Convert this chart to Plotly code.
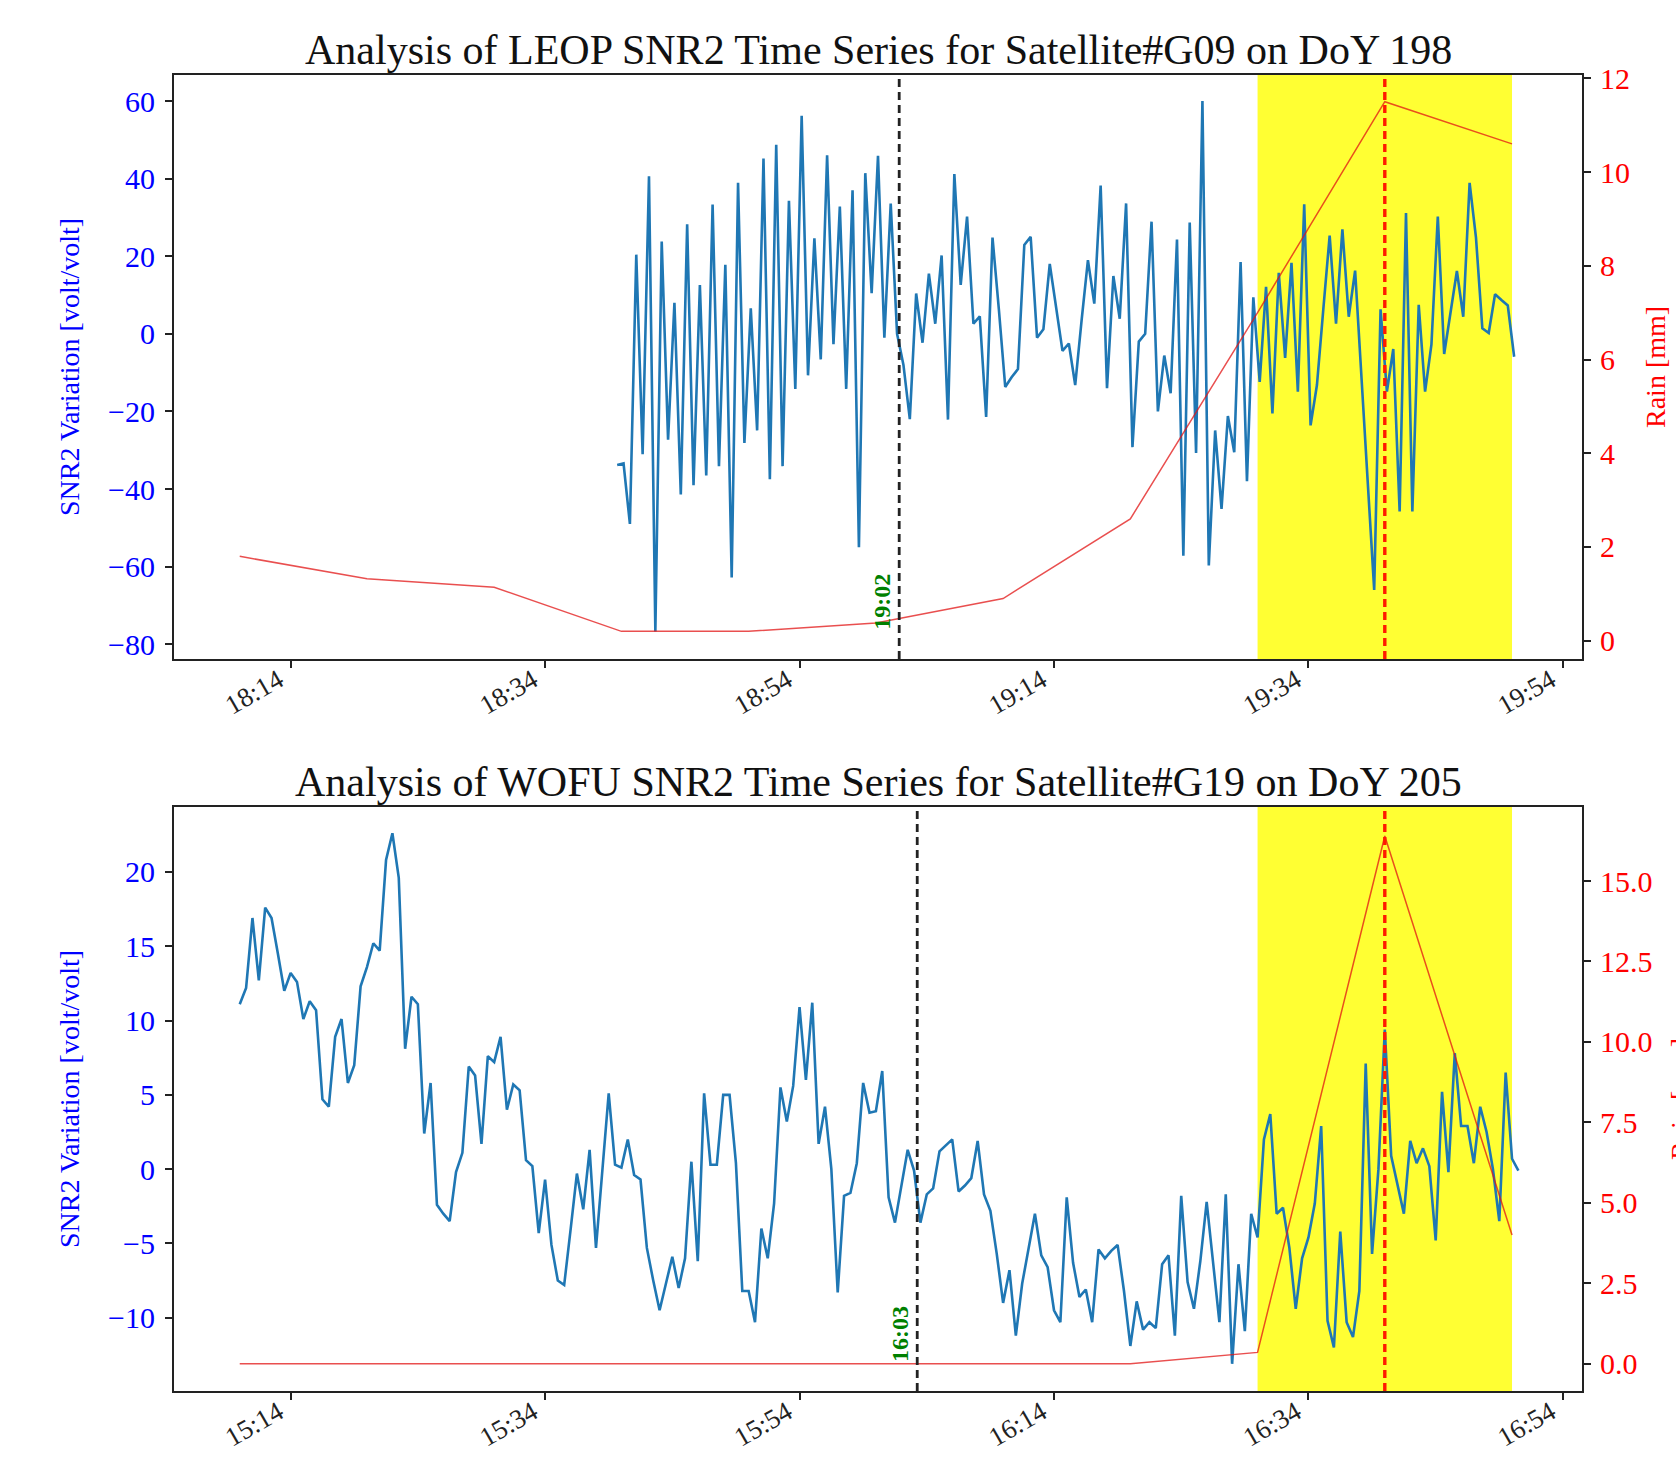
import pandas as pd
import plotly.graph_objects as go

FONT = "Liberation Serif, Times New Roman, serif"

# ---------------- data: top panel (LEOP, G09, DoY 198) ----------------
top_title = "Analysis of LEOP SNR2 Time Series for Satellite#G09 on DoY 198"
top_date = "2023-07-17"
top_snr_start = "18:39:40"       # 30 s sampling
top_snr = [
    -33.8, -33.4, -49.0, 20.4, -31.0, 40.6, -76.7, 23.8, -27.3, 8.0,
    -41.4, 28.2, -39.0, 12.6, -36.5, 33.3, -34.1, 17.8, -62.8, 38.9,
    -28.1, 6.6, -24.9, 45.2, -37.5, 48.7, -34.1, 34.3, -14.2, 56.2,
    -10.7, 24.6, -6.6, 46.0, -2.7, 32.8, -14.2, 37.0, -55.0, 41.4,
    10.5, 45.9, -1.0, 33.6, 0.0, -8.0, -22.0, 10.4, -2.3, 15.5,
    2.6, 20.2, -22.1, 41.2, 12.6, 30.2, 2.6, 4.5, -21.4, 24.8,
    6.3, -13.7, -11.2, -9.1, 22.9, 25.0, -1.0, 1.2, 18.0, 7.0,
    -4.4, -2.5, -13.2, 3.4, 19.0, 7.8, 38.2, -14.0, 14.9, 3.9,
    33.6, -29.2, -2.0, 0.0, 28.9, -20.0, -5.6, -15.3, 24.3, -57.2,
    28.7, -30.7, 60.0, -59.7, -24.9, -45.1, -21.2, -30.5, 18.5, -38.0,
    9.4, -12.4, 12.1, -20.5, 15.7, -6.2, 18.3, -14.9, 33.4, -23.6,
    -13.2, 6.3, 25.3, 2.6, 26.9, 4.4, 16.3, -11.2, -38.5, -66.0,
    6.3, -14.9, -3.9, -45.8, 31.1, -45.8, 7.5, -14.9, -2.7, 30.2,
    -5.2, 5.3, 16.2, 4.4, 38.9, 24.8, 1.4, 0.2, 10.2, 8.7,
    7.3, -5.9,
]
top_rain_times = ["18:10", "18:20", "18:30", "18:40", "18:50", "19:00",
                  "19:10", "19:20", "19:30", "19:40", "19:50"]
top_rain = [1.80, 1.32, 1.14, 0.20, 0.20, 0.38, 0.90, 2.60, 7.00, 11.50, 10.60]
top_onset = "19:01:50"
top_onset_label = "19:02"
top_span = ["19:30", "19:50"]
top_peak = "19:40"
top_ticks = ["18:14", "18:34", "18:54", "19:14", "19:34", "19:54"]
top_xrange = ["18:04:50", "19:55:30"]
top_yrange = [-83.8, 66.7]
top_y2range = [-0.39, 12.07]

# ---------------- data: bottom panel (WOFU, G19, DoY 205) ----------------
bot_title = "Analysis of WOFU SNR2 Time Series for Satellite#G19 on DoY 205"
bot_date = "2023-07-24"
bot_snr_start = "15:10:00"       # 30 s sampling
bot_snr = [
    11.1, 12.2, 16.9, 12.7, 17.6, 16.9, 14.5, 12.0, 13.2, 12.6,
    10.1, 11.3, 10.7, 4.7, 4.2, 8.9, 10.1, 5.8, 7.0, 12.3,
    13.6, 15.2, 14.7, 20.8, 22.6, 19.6, 8.1, 11.6, 11.1, 2.4,
    5.8, -2.4, -3.0, -3.5, -0.2, 1.1, 6.9, 6.3, 1.7, 7.6,
    7.2, 8.9, 4.0, 5.7, 5.3, 0.6, 0.2, -4.3, -0.7, -5.1,
    -7.5, -7.8, -4.1, -0.3, -2.7, 1.3, -5.3, 0.0, 5.1, 0.3,
    0.1, 2.0, -0.4, -0.7, -5.3, -7.5, -9.5, -7.7, -5.9, -8.0,
    -6.0, 0.5, -6.2, 5.1, 0.3, 0.3, 5.0, 5.0, 0.4, -8.2,
    -8.2, -10.3, -4.0, -6.0, -2.3, 5.5, 3.2, 5.6, 10.9, 6.0,
    11.2, 1.7, 4.2, 0.0, -8.3, -1.8, -1.6, 0.4, 5.8, 3.8,
    3.9, 6.6,
    -1.9, -3.6, -1.0, 1.3, -0.1, -3.6, -1.7, -1.3, 1.2, 1.6,
    2.0, -1.5, -1.1, -0.6, 1.9, -1.7, -2.8, -5.7, -9.0, -6.8,
    -11.2, -7.7, -5.3, -3.0, -5.8, -6.6, -9.5, -10.3, -1.9, -6.3,
    -8.6, -8.1, -10.3, -5.4, -6.0, -5.5, -5.1, -8.2, -11.9, -8.9,
    -10.8, -10.3, -10.7, -6.4, -5.8, -11.2, -1.8, -7.6, -9.4, -6.2,
    -2.2, -6.2, -10.3, -1.7, -13.1, -6.4, -10.9, -3.0, -4.6, 2.0,
    3.7, -3.0, -2.6, -5.3, -9.4, -6.0, -4.6, -2.3, 2.9, -10.2,
    -12.0, -4.2, -10.3, -11.3, -8.2, 7.1, -5.7, 0.0, 9.4, 0.9,
    -1.1, -3.0, 1.9, 0.4, 1.4, 0.2, -4.8, 5.2, -0.2, 7.8,
    2.9, 2.9, 0.4, 4.2, 2.5, 0.0, -3.5, 6.5, 0.7, -0.1,
]
bot_rain_times = ["15:10", "15:20", "15:30", "15:40", "15:50", "16:00",
                  "16:10", "16:20", "16:30", "16:40", "16:50"]
bot_rain = [0.0, 0.0, 0.0, 0.0, 0.0, 0.0, 0.0, 0.0, 0.35, 16.4, 4.0]
bot_onset = "16:03:15"
bot_onset_label = "16:03"
bot_span = ["16:30", "16:50"]
bot_peak = "16:40"
bot_ticks = ["15:14", "15:34", "15:54", "16:14", "16:34", "16:54"]
bot_xrange = ["15:04:50", "16:55:30"]
bot_yrange = [-14.93, 24.37]
bot_y2range = [-0.85, 17.3]

y_label = "SNR2 Variation [volt/volt]"
y2_label = "Rain [mm]"

# ---------------- figure ----------------
W, H = 1676, 1458
ML, MR, MT, MB = 174, 94, 75, 67
plot_w = W - ML - MR
plot_h = H - MT - MB
panel_h = 584
dom_bot = [0, panel_h / plot_h]
dom_top = [1 - panel_h / plot_h, 1]

SNR_COLOR = "#1f77b4"
RAIN_COLOR = "rgba(225,20,20,0.75)"

fig = go.Figure()


def d(date, t):
    return f"{date} {t}"


panels = [
    dict(date=top_date, start=top_snr_start, snr=top_snr, rt=top_rain_times, rain=top_rain,
         onset=top_onset, onset_label=top_onset_label, span=top_span, peak=top_peak,
         ticks=top_ticks, xr=top_xrange, yr=top_yrange, y2r=top_y2range, title=top_title,
         xa="x", ya="y", ya2="y2", dom=dom_top, dtick=20, dtick2=2, fmt2="",
         right_x_px=1655),
    dict(date=bot_date, start=bot_snr_start, snr=bot_snr, rt=bot_rain_times, rain=bot_rain,
         onset=bot_onset, onset_label=bot_onset_label, span=bot_span, peak=bot_peak,
         ticks=bot_ticks, xr=bot_xrange, yr=bot_yrange, y2r=bot_y2range, title=bot_title,
         xa="x2", ya="y3", ya2="y4", dom=dom_bot, dtick=5, dtick2=2.5, fmt2=".1f",
         right_x_px=1680),
]

annotations = []
shapes = []
axis_common = dict(showgrid=False, zeroline=False, showline=True, linewidth=2,
                   linecolor="#222222", ticks="outside", ticklen=7, tickwidth=1.5,
                   tickcolor="#222222", automargin=False)

for k, p in enumerate(panels):
    times = pd.date_range(d(p["date"], p["start"]), periods=len(p["snr"]), freq="30s")
    fig.add_trace(go.Scatter(x=times, y=p["snr"], mode="lines",
                             line=dict(color=SNR_COLOR, width=2.6),
                             xaxis=p["xa"], yaxis=p["ya"], showlegend=False))
    fig.add_trace(go.Scatter(x=[d(p["date"], t) for t in p["rt"]], y=p["rain"], mode="lines",
                             line=dict(color=RAIN_COLOR, width=1.5),
                             xaxis=p["xa"], yaxis=p["ya2"], showlegend=False))

    # rain window
    shapes.append(dict(type="rect", xref=p["xa"], yref=f"{p['ya']} domain",
                       x0=d(p["date"], p["span"][0]), x1=d(p["date"], p["span"][1]),
                       y0=0, y1=1, fillcolor="#ffff33", line=dict(width=0), layer="below"))
    # onset line
    shapes.append(dict(type="line", xref=p["xa"], yref=f"{p['ya']} domain",
                       x0=d(p["date"], p["onset"]), x1=d(p["date"], p["onset"]),
                       y0=0, y1=1, line=dict(color="#222222", width=2.8, dash="8px,5px"),
                       layer="above"))
    # rain peak line
    shapes.append(dict(type="line", xref=p["xa"], yref=f"{p['ya']} domain",
                       x0=d(p["date"], p["peak"]), x1=d(p["date"], p["peak"]),
                       y0=0, y1=1, line=dict(color="#ff1a00", width=3.4, dash="8px,5px"),
                       layer="above"))

    # onset label
    annotations.append(dict(text=f"<b>{p['onset_label']}</b>", x=d(p["date"], p["onset"]),
                            y=min(p["snr"]), xref=p["xa"], yref=p["ya"], xanchor="right",
                            yanchor="bottom", textangle=-90, showarrow=False, xshift=-2,
                            font=dict(family=FONT, size=24, color="#008000")))
    # title
    top_px = MT if k == 0 else MT + plot_h - panel_h
    annotations.append(dict(text=p["title"], xref="paper", yref="paper", x=0.5,
                            y=(H - MB - (top_px - 25)) / plot_h, xanchor="center",
                            yanchor="middle", showarrow=False,
                            font=dict(family=FONT, size=42, color="#111111")))
    # left axis title
    annotations.append(dict(text=y_label, xref="paper", yref=f"{p['ya']} domain",
                            x=(69 - ML) / plot_w, y=0.5, xanchor="center", yanchor="middle",
                            textangle=-90, showarrow=False,
                            font=dict(family=FONT, size=28, color="blue")))
    # right axis title
    annotations.append(dict(text=y2_label, xref="paper", yref=f"{p['ya']} domain",
                            x=(p["right_x_px"] - ML) / plot_w, y=0.5, xanchor="center",
                            yanchor="middle", textangle=-90, showarrow=False,
                            font=dict(family=FONT, size=28, color="red")))

    xname = "xaxis" if p["xa"] == "x" else "xaxis2"
    yname = "yaxis" if p["ya"] == "y" else "yaxis3"
    y2name = "yaxis2" if p["ya2"] == "y2" else "yaxis4"
    fig.update_layout(**{
        xname: dict(domain=[0, 1], anchor=p["ya"], type="date",
                    range=[d(p["date"], p["xr"][0]), d(p["date"], p["xr"][1])],
                    tickvals=[d(p["date"], t) for t in p["ticks"]], ticktext=p["ticks"],
                    tickangle=-30, mirror=True, ticklabelshift=-12, ticklabelstandoff=-14,
                    tickfont=dict(family=FONT, size=27, color="#222222"), **axis_common),
        yname: dict(domain=p["dom"], anchor=p["xa"], range=p["yr"], dtick=p["dtick"], tick0=0,
                    mirror=True, ticklabelstandoff=4,
                    tickfont=dict(family=FONT, size=30, color="blue"), **axis_common),
        y2name: dict(overlaying=p["ya"], side="right", anchor=p["xa"], range=p["y2r"],
                     dtick=p["dtick2"], tick0=0, tickformat=p["fmt2"], ticklabelstandoff=3,
                     tickfont=dict(family=FONT, size=30, color="red"), **axis_common),
    })

fig.update_layout(template="none", width=W, height=H,
                  margin=dict(l=ML, r=MR, t=MT, b=MB, autoexpand=False),
                  paper_bgcolor="white", plot_bgcolor="white",
                  font=dict(family=FONT, color="#222222"), showlegend=False,
                  shapes=shapes, annotations=annotations)

fig.write_html("out.html", config={"displayModeBar": False},
               post_script="document.body.style.margin='0';"
                           "document.body.style.overflow='hidden';")
